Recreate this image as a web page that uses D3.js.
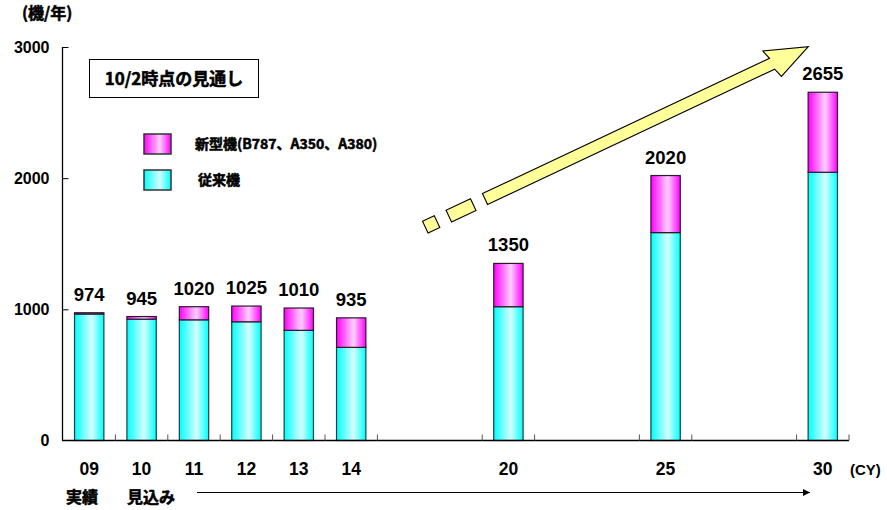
<!DOCTYPE html>
<html>
<head>
<meta charset="utf-8">
<script src="https://cdn.jsdelivr.net/npm/d3@7/dist/d3.min.js"></script>
<style>
  html, body { margin: 0; padding: 0; background: #fff; }
  svg { display: block; }
  text { font-family: "Liberation Sans", Arial, "Noto Sans CJK JP", sans-serif; font-weight: bold; fill: #000; }
  .jp { font-family: "Noto Sans CJK JP", "Liberation Sans", sans-serif; font-weight: bold; stroke: #000; stroke-width: 0.55px; }
</style>
</head>
<body>
<svg id="chart" width="887" height="510"></svg>
<script>
// Deliveries per calendar year (units / year)
const categories = ["09", "10", "11", "12", "13", "14", "20", "25", "30"];
const conventional = [964, 925, 920, 905, 840, 710, 1020, 1585, 2045];   // 従来機
const newModels    = [10, 20, 100, 120, 170, 225, 330, 435, 610];         // 新型機
const totals       = [974, 945, 1020, 1025, 1010, 935, 1350, 2020, 2655];
const yTicks = [0, 1000, 2000, 3000];
// empty slots inserted before these years on the compressed time axis
const gapBefore = { "20": 2, "25": 2, "30": 2 };

const svg = d3.select("#chart");

// Slot domain (year slots plus spacer slots)
const slots = [];
categories.forEach(c => {
  for (let i = 0; i < (gapBefore[c] || 0); i++) slots.push("gap-" + c + "-" + i);
  slots.push(c);
});

const x = d3.scaleBand().domain(slots).range([63, 849]).padding(0);
const y = d3.scaleLinear().domain([0, 3000]).range([440.5, 47]);
const barW = x.bandwidth() * 0.56;

// Gradients
const defs = svg.append("defs");
function grad(id, edge, mid) {
  const g = defs.append("linearGradient").attr("id", id).attr("x1", "0%").attr("x2", "100%");
  g.append("stop").attr("offset", "0%").attr("stop-color", edge);
  g.append("stop").attr("offset", "58%").attr("stop-color", mid);
  g.append("stop").attr("offset", "100%").attr("stop-color", edge);
}
grad("gCyan", "#00ffff", "#d4ffff");
grad("gMag", "#ff00ff", "#ffd0ff");
const arrowMarker = defs.append("marker").attr("id", "arrowHead")
  .attr("viewBox", "0 0 10 10").attr("refX", 10).attr("refY", 5)
  .attr("markerWidth", 9).attr("markerHeight", 7).attr("markerUnits", "userSpaceOnUse")
  .attr("orient", "auto");
arrowMarker.append("path").attr("d", "M0,0 L10,5 L0,10 Z").attr("fill", "#000");

// Bars
const data = categories.map((c, i) => ({ c, conv: conventional[i], nw: newModels[i], total: totals[i] }));
const bars = svg.append("g");
bars.selectAll("rect.conv").data(data).join("rect")
  .attr("class", "conv")
  .attr("x", d => x(d.c) + (x.bandwidth() - barW) / 2)
  .attr("width", barW)
  .attr("y", d => y(d.conv))
  .attr("height", d => y(0) - y(d.conv))
  .attr("fill", "url(#gCyan)")
  .attr("stroke", "#1f3f3f").attr("stroke-width", 1.2);
bars.selectAll("rect.nw").data(data).join("rect")
  .attr("class", "nw")
  .attr("x", d => x(d.c) + (x.bandwidth() - barW) / 2)
  .attr("width", barW)
  .attr("y", d => y(d.conv + d.nw))
  .attr("height", d => y(d.conv) - y(d.conv + d.nw))
  .attr("fill", "url(#gMag)")
  .attr("stroke", "#2a1a2a").attr("stroke-width", 1.2);

// Value labels
svg.append("g").selectAll("text").data(data).join("text")
  .attr("x", d => x(d.c) + x.bandwidth() / 2)
  .attr("y", d => y(d.total) - 12)
  .attr("text-anchor", "middle")
  .attr("font-size", 18.5)
  .text(d => d.total);

// Y axis
const yAxis = d3.axisLeft(y).tickValues(yTicks).tickSize(-6).tickPadding(13).tickFormat(d3.format("d"));
const gy = svg.append("g").attr("transform", "translate(62.5,0)").call(yAxis);
gy.select(".domain").attr("stroke", "#000").attr("stroke-width", 1.3).attr("d", `M0,${y(3000)}V${y(0)}`);
gy.selectAll(".tick line").attr("stroke", "#000");
gy.selectAll(".tick text").attr("font-size", 16).attr("font-family", "Liberation Sans, Arial, sans-serif").attr("font-weight", "bold");
gy.select(".tick:first-of-type line").remove();

// X axis baseline and slot ticks
svg.append("line").attr("x1", 62).attr("x2", 849).attr("y1", y(0)).attr("y2", y(0))
  .attr("stroke", "#000").attr("stroke-width", 1.3);
const isGap = s => s.startsWith("gap-");
const boundaries = [];
slots.forEach((s, i) => {
  const next = slots[i + 1];
  if (next === undefined) { boundaries.push(x(s) + x.bandwidth()); return; }
  if (!(isGap(s) && isGap(next))) boundaries.push(x(next));
});
svg.append("g").selectAll("line").data(boundaries).join("line")
  .attr("x1", d => d).attr("x2", d => d)
  .attr("y1", y(0)).attr("y2", y(0) - 6)
  .attr("stroke", "#555").attr("stroke-width", 1);

// Category labels
svg.append("g").selectAll("text").data(categories).join("text")
  .attr("x", d => x(d) + x.bandwidth() / 2)
  .attr("y", 475)
  .attr("text-anchor", "middle")
  .attr("font-size", 17.5)
  .text(d => d);
svg.append("text").attr("x", 850).attr("y", 474.5).attr("font-size", 15).text("(CY)");

// Unit label
svg.append("text").attr("class", "jp").attr("x", 22).attr("y", 19).attr("font-size", 16).text("(機/年)");

// Forecast note box
svg.append("rect").attr("x", 89.5).attr("y", 59.5).attr("width", 169).attr("height", 38)
  .attr("fill", "#fff").attr("stroke", "#000").attr("stroke-width", 1);
svg.append("text").attr("class", "jp").attr("x", 174).attr("y", 84.5).attr("text-anchor", "middle")
  .attr("font-size", 17).text("10/2時点の見通し");

// Legend
const legend = [
  { label: "新型機(B787、A350、A380)", fill: "url(#gMag)", y: 134, tx: 195 },
  { label: "従来機", fill: "url(#gCyan)", y: 170, tx: 198 }
];
const lg = svg.append("g");
lg.selectAll("rect").data(legend).join("rect")
  .attr("x", 144).attr("y", d => d.y).attr("width", 27).attr("height", 20)
  .attr("fill", d => d.fill).attr("stroke", "#333").attr("stroke-width", 1.5);
lg.selectAll("text").data(legend).join("text")
  .attr("class", "jp")
  .attr("x", d => d.tx).attr("y", d => d.y + 15)
  .attr("font-size", 14)
  .text(d => d.label);

// Period labels and timeline arrow
svg.append("text").attr("class", "jp").attr("x", 66).attr("y", 503).attr("font-size", 16).text("実績");
svg.append("text").attr("class", "jp").attr("x", 127).attr("y", 503).attr("font-size", 16).text("見込み");
svg.append("line").attr("x1", 197).attr("x2", 810).attr("y1", 492.5).attr("y2", 492.5)
  .attr("stroke", "#000").attr("stroke-width", 1).attr("marker-end", "url(#arrowHead)");

// Growth trend arrow (drawn in a rotated local frame)
const start = [485, 199], tip = [808.3, 46.7];
const angle = Math.atan2(tip[1] - start[1], tip[0] - start[0]) * 180 / Math.PI;
const len = Math.hypot(tip[0] - start[0], tip[1] - start[1]);
const headLen = 40, bodyHalf = 6, headHalf = 15.5;
const trend = svg.append("g").attr("transform", `translate(${start[0]},${start[1]}) rotate(${angle})`);
const styleArrow = sel => sel.attr("fill", "#ffff99").attr("stroke", "#000").attr("stroke-width", 1.1);
trend.append("path").call(styleArrow).attr("d",
  `M0,${-bodyHalf} L${len - headLen},${-bodyHalf} L${len - headLen - 3},${-headHalf} L${len},0 ` +
  `L${len - headLen + 3},${headHalf} L${len - headLen},${bodyHalf} L0,${bodyHalf} Z`);
trend.append("rect").call(styleArrow).attr("x", -40).attr("y", -bodyHalf - 0.5).attr("width", 27).attr("height", 2 * bodyHalf + 1);
trend.append("rect").call(styleArrow).attr("x", -66).attr("y", -bodyHalf - 0.5).attr("width", 13).attr("height", 2 * bodyHalf + 1);
</script>
</body>
</html>
